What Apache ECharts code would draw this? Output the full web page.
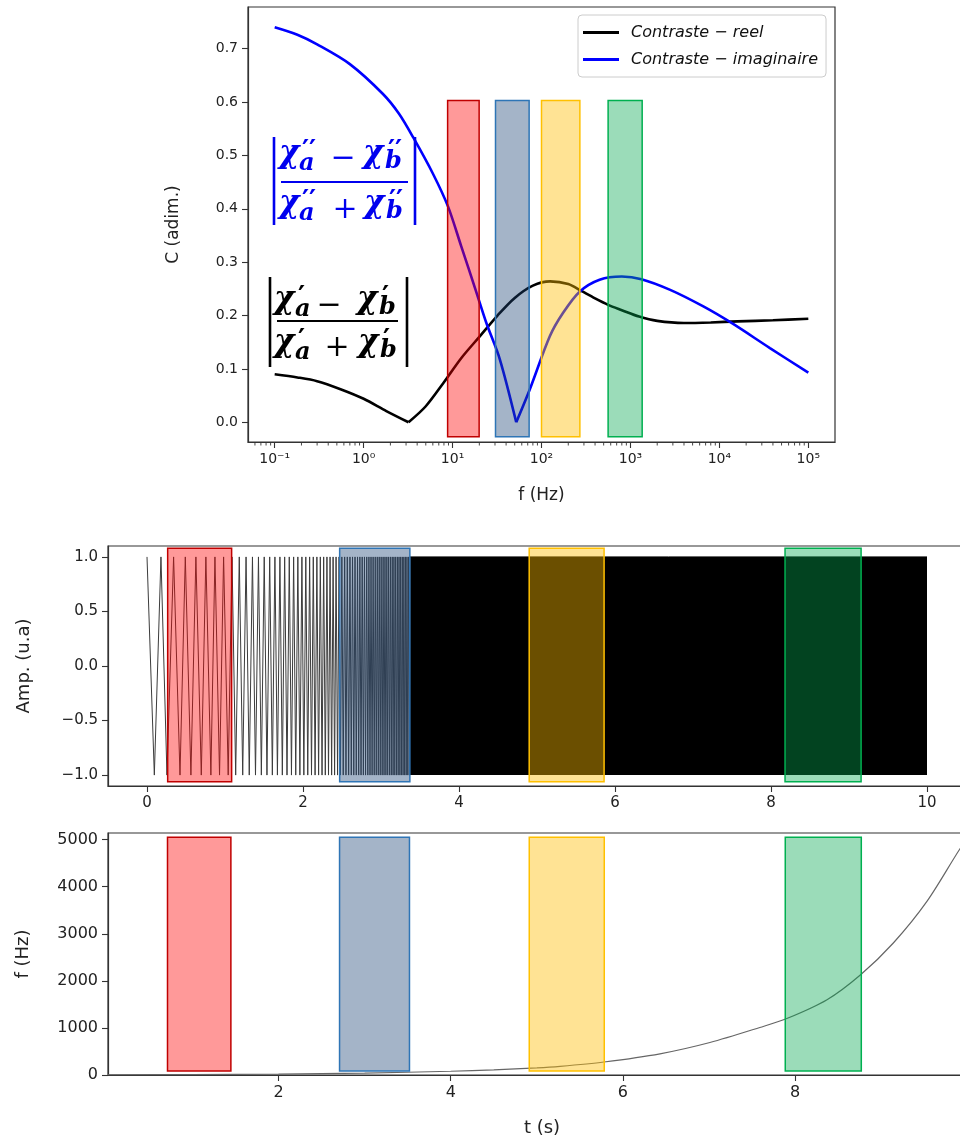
<!DOCTYPE html>
<html><head><meta charset="utf-8">
<script src="https://cdn.jsdelivr.net/npm/echarts@6/dist/echarts.min.js"></script>
<style>html,body{margin:0;padding:0;background:#fff}#chart{width:960px;height:1144px}</style>
</head><body><div id="chart"></div>
<script>
// ---------- DATA ----------
// Top panel: contrast vs frequency (log axis)
const freqReal = [0.1, 0.18, 0.3, 0.55, 1.0, 1.8, 3.2, 5.0, 8.0, 12.5, 20, 32, 50, 80, 125, 200, 280, 400, 560, 800, 1250, 2000, 4000, 8000, 16000, 40000, 100000];
const contrastReal = [0.090, 0.084, 0.077, 0.062, 0.044, 0.021, 0.000, 0.030, 0.075, 0.120, 0.160, 0.200, 0.233, 0.256, 0.264, 0.259, 0.246, 0.232, 0.220, 0.210, 0.198, 0.190, 0.186, 0.187, 0.189, 0.191, 0.194];
const freqImag = [0.1, 0.18, 0.3, 0.7, 1.65, 2.5, 3.6, 6.0, 8.9, 12.5, 18, 24, 34, 52, 74, 124, 175, 270, 450, 800, 1330, 2800, 6600, 13700, 37000, 100000];
const contrastImag = [0.740, 0.726, 0.708, 0.671, 0.615, 0.578, 0.534, 0.466, 0.404, 0.330, 0.250, 0.186, 0.118, 0.000, 0.062, 0.161, 0.205, 0.245, 0.267, 0.273, 0.268, 0.248, 0.217, 0.186, 0.139, 0.093];
const seriesNames = ['Contraste − reel', 'Contraste − imaginaire'];
const topXTicks = [0.1, 1, 10, 100, 1000, 10000, 100000];
const topXTickLabels = ['10⁻¹', '10⁰', '10¹', '10²', '10³', '10⁴', '10⁵'];
const topYTicks = [0, 0.1, 0.2, 0.3, 0.4, 0.5, 0.6, 0.7];
const topBoxesX = [[8.8, 19.9], [30.4, 72.6], [100, 270], [561, 1355]];
const topBoxY = [-0.027, 0.603];

// Middle panel: chirp signal, times of successive extrema (+1, -1, +1, ...)
const chirpExtremaT = [0.000, 0.094, 0.179, 0.256, 0.341, 0.423, 0.491, 0.563, 0.627, 0.696, 0.755, 0.819, 0.871, 0.930, 0.982, 1.041,
  1.090, 1.137, 1.183, 1.227, 1.270, 1.311, 1.352, 1.391, 1.429, 1.466, 1.503, 1.538, 1.573, 1.607, 1.640, 1.672, 1.704, 1.735, 1.765, 1.795,
  1.824, 1.852, 1.880, 1.907, 1.934, 1.960, 1.986, 2.011, 2.036, 2.061, 2.085, 2.109, 2.132, 2.155, 2.178, 2.200, 2.222, 2.244, 2.265, 2.286,
  2.307, 2.327, 2.347, 2.367, 2.386, 2.405, 2.424, 2.443, 2.462, 2.480, 2.498, 2.516, 2.534, 2.551, 2.568, 2.585, 2.602, 2.619, 2.635, 2.651,
  2.667, 2.683, 2.699, 2.714, 2.729, 2.744, 2.759, 2.774, 2.788, 2.802, 2.817, 2.831, 2.845, 2.859, 2.872, 2.886, 2.899, 2.913, 2.926, 2.939,
  2.952, 2.965, 2.977, 2.990, 3.002, 3.015, 3.027, 3.039, 3.051, 3.063, 3.075, 3.086, 3.098, 3.110, 3.121, 3.132, 3.144, 3.155, 3.166, 3.177,
  3.188, 3.199, 3.210, 3.220, 3.231, 3.242, 3.252, 3.262, 3.273, 3.283, 3.293, 3.303, 3.313, 3.323, 3.333, 3.343, 3.353, 3.363, 3.373];
const chirpDenseT = [3.37, 10.0];   // solid (unresolved) part of the chirp
const chirpAmp = 1.0;
const midXTicks = [0, 2, 4, 6, 8, 10];
const midYTicks = [-1, -0.5, 0, 0.5, 1];
const midBoxesX = [[0.265, 1.085], [2.47, 3.37], [4.90, 5.86], [8.18, 9.155]];
const midBoxY = [-1.06, 1.08];

// Bottom panel: instantaneous frequency vs time
const sweepT = [0.02, 1.0, 2.0, 3.0, 4.0, 4.5, 5.0, 5.27, 5.78, 6.43, 7.01, 7.59, 7.91, 8.37, 8.76, 9.14, 9.53, 9.92, 10.0];
const sweepF = [5, 10, 20, 40, 80, 110, 150, 183, 276, 450, 690, 1010, 1205, 1600, 2131, 2805, 3689, 4824, 5000];
const botXTicks = [2, 4, 6, 8];
const botYTicks = [0, 1000, 2000, 3000, 4000, 5000];
const botBoxesX = [[0.711, 1.447], [2.709, 3.521], [4.912, 5.783], [7.885, 8.768]];
const botBoxY = [85, 5050];

// box colours (red, blue, yellow, green)
const boxFill = ['rgba(255,0,0,0.4)', 'rgba(28,68,118,0.4)', 'rgba(255,188,0,0.42)', 'rgba(5,168,80,0.4)'];
const boxEdge = ['#C00000', '#2E75B6', '#FFC000', '#00B050'];

// ---------- CHART ----------
const FONT = 'DejaVu Sans';
const AX = '#333';
const TOP_X_RANGE = [Math.pow(10, -1.3), Math.pow(10, 5.3)];
const TOP_Y_RANGE = [-0.037, 0.778];
const fmt1 = v => (v < 0 ? '−' + Math.abs(v).toFixed(1) : v.toFixed(1));

function boxSeries(xi, yi, boxes, yr) {
  return {
    type: 'custom', xAxisIndex: xi, yAxisIndex: yi, z: 10, silent: true,
    data: boxes.map((b, i) => [b[0], b[1], yr[0], yr[1], i]),
    encode: { x: [0, 1], y: [2, 3] },
    renderItem: (params, api) => {
      const p0 = api.coord([api.value(0), api.value(3)]);
      const p1 = api.coord([api.value(1), api.value(2)]);
      const k = api.value(4);
      return { type: 'rect', shape: { x: p0[0], y: p0[1], width: p1[0] - p0[0], height: p1[1] - p0[1] },
        style: { fill: boxFill[k], stroke: boxEdge[k], lineWidth: 1.5 } };
    }
  };
}

// split a curve at its V-shaped minimum so that smoothing keeps the tip sharp
function splitAtMin(xs, ys) {
  let k = 0;
  ys.forEach((v, i) => { if (v < ys[k]) k = i; });
  const pts = xs.map((x, i) => [x, ys[i]]);
  return [pts.slice(0, k + 1), pts.slice(k)];
}

function formula(c) {
  const els = [];
  const SERIF = '"DejaVu Serif", "Liberation Serif", serif';
  const chiFont = 'italic bold 31px ' + SERIF;
  const subFont = 'italic bold 24px ' + SERIF;
  const primeFont = 'bold 27px ' + SERIF;
  const opFont = '30px ' + SERIF;
  const t = (text, x, y, font, align) => els.push({ type: 'text', z: 30, silent: true,
    style: { text, x, y, font, fill: c.color, align: align || 'left', textAlign: align || 'left', verticalAlign: 'middle', textVerticalAlign: 'middle' } });
  const L = c.L, T = c.T;
  [[c.numCy, c.numOpX, '−', c.num2X, c.numSub2X], [c.denCy, c.denOpX, '+', c.den2X, c.denSub2X]].forEach(r => {
    const cy = r[0];
    t('χ', L + c.chi1X, cy - 5, chiFont);
    t(c.prime, L + c.sub1X + 4, cy - 6, primeFont);
    t('a', L + c.sub1X + 1, cy + 5, subFont);
    t(r[2], L + r[1], cy + 1, opFont, 'center');
    t('χ', L + r[3], cy - 5, chiFont);
    t(c.prime, L + r[4] + 4, cy - 6, primeFont);
    t('b', L + r[4] + 1, cy + 3, subFont);
  });
  els.push({ type: 'line', z: 30, silent: true, shape: { x1: L + c.lineX0, y1: T + c.lineY, x2: L + c.lineX1, y2: T + c.lineY }, style: { stroke: c.color, lineWidth: 2 } });
  els.push({ type: 'line', z: 30, silent: true, shape: { x1: L, y1: T, x2: L, y2: T + c.H }, style: { stroke: c.color, lineWidth: 2.6 } });
  els.push({ type: 'line', z: 30, silent: true, shape: { x1: L + c.barR, y1: T, x2: L + c.barR, y2: T + c.H }, style: { stroke: c.color, lineWidth: 2.6 } });
  return els;
}

const graphics = [].concat(
  formula({ L: 274, T: 137, H: 88, color: '#0000ee', prime: '′′', numCy: 137 + 21.5, denCy: 137 + 72, lineY: 45,
    chi1X: 5, sub1X: 24, numOpX: 69, num2X: 89, numSub2X: 110, denOpX: 71, den2X: 90, denSub2X: 111, lineX0: 7, lineX1: 134, barR: 141 }),
  formula({ L: 270, T: 277, H: 90, color: '#000000', prime: '′', numCy: 277 + 28, denCy: 277 + 70.5, lineY: 44,
    chi1X: 4, sub1X: 24, numOpX: 59, num2X: 87, numSub2X: 108, denOpX: 67, den2X: 88, denSub2X: 109, lineX0: 7, lineX1: 128, barR: 137 })
);

const minorTop = [];
for (let e = -2; e <= 5; e++) for (let m = 2; m <= 9; m++) {
  const v = m * Math.pow(10, e);
  if (v > TOP_X_RANGE[0] && v < TOP_X_RANGE[1]) minorTop.push(v);
}

const labelStyle = fs => ({ fontFamily: FONT, fontSize: fs, color: '#222' });
const axLine = { show: true, onZero: false, lineStyle: { color: AX, width: 1.2 } };
const gridBase = { show: true, borderColor: AX, borderWidth: 1.2, backgroundColor: 'transparent', containLabel: false, outerBoundsMode: 'none' };

const realParts = splitAtMin(freqReal, contrastReal);
const imagParts = splitAtMin(freqImag, contrastImag);
const curve = (name, color, data, z) => ({ name, type: 'line', xAxisIndex: 0, yAxisIndex: 0, showSymbol: false, z, color,
  smooth: 0.3, lineStyle: { color, width: 2.6 }, data });

const option = {
  animation: false,
  backgroundColor: '#fff',
  grid: [
    { ...gridBase, left: 248, top: 7, width: 587, height: 435 },
    { ...gridBase, left: 108, top: 546, width: 858, height: 240 },
    { ...gridBase, left: 108, top: 833, width: 868, height: 242 }
  ],
  legend: {
    left: 578, top: 15, orient: 'vertical', data: seriesNames,
    icon: 'rect', itemWidth: 36, itemHeight: 3, itemGap: 8,
    padding: [8, 8, 8, 5],
    backgroundColor: 'rgba(255,255,255,0.85)', borderColor: '#cccccc', borderWidth: 1, borderRadius: 4,
    textStyle: { fontFamily: FONT, fontStyle: 'italic', fontSize: 16, color: '#111', padding: [0, 0, 0, 7], lineHeight: 19 }
  },
  xAxis: [
    { type: 'log', gridIndex: 0, position: 'bottom', min: TOP_X_RANGE[0], max: TOP_X_RANGE[1],
      name: 'f (Hz)', nameLocation: 'middle', nameGap: 45, nameTextStyle: labelStyle(17),
      axisLine: axLine, splitLine: { show: false },
      axisTick: { show: true, length: 6, lineStyle: { color: AX, width: 1.1 }, customValues: topXTicks },
      axisLabel: { ...labelStyle(14), margin: 10, customValues: topXTicks,
        formatter: v => { const i = topXTicks.findIndex(x => Math.abs(Math.log10(x) - Math.log10(v)) < 1e-6); return i >= 0 ? topXTickLabels[i] : ''; } } },
    { type: 'value', gridIndex: 1, position: 'bottom', min: -0.5, max: 10.5,
      axisLine: axLine, splitLine: { show: false },
      axisTick: { show: true, length: 6, lineStyle: { color: AX, width: 1.1 }, customValues: midXTicks },
      axisLabel: { ...labelStyle(15), margin: 10, customValues: midXTicks, formatter: v => String(v) } },
    { type: 'value', gridIndex: 2, position: 'bottom', min: 0.02, max: 10.1,
      name: 't (s)', nameLocation: 'middle', nameGap: 44, nameTextStyle: labelStyle(18),
      axisLine: axLine, splitLine: { show: false },
      axisTick: { show: true, length: 6, lineStyle: { color: AX, width: 1.1 }, customValues: botXTicks },
      axisLabel: { ...labelStyle(16), margin: 10, customValues: botXTicks, formatter: v => String(v) } }
  ],
  yAxis: [
    { type: 'value', gridIndex: 0, min: TOP_Y_RANGE[0], max: TOP_Y_RANGE[1],
      name: 'C (adim.)', nameLocation: 'middle', nameGap: 66, nameTextStyle: labelStyle(17),
      axisLine: axLine, splitLine: { show: false },
      axisTick: { show: true, length: 6, lineStyle: { color: AX, width: 1.1 }, customValues: topYTicks },
      axisLabel: { ...labelStyle(14), margin: 10, customValues: topYTicks, formatter: fmt1 } },
    { type: 'value', gridIndex: 1, min: -1.1, max: 1.1,
      name: 'Amp. (u.a)', nameLocation: 'middle', nameGap: 75, nameTextStyle: labelStyle(18),
      axisLine: axLine, splitLine: { show: false },
      axisTick: { show: true, length: 6, lineStyle: { color: AX, width: 1.1 }, customValues: midYTicks },
      axisLabel: { ...labelStyle(15), margin: 10, customValues: midYTicks, formatter: fmt1 } },
    { type: 'value', gridIndex: 2, min: 0, max: 5142,
      name: 'f (Hz)', nameLocation: 'middle', nameGap: 76, nameTextStyle: labelStyle(18),
      axisLine: axLine, splitLine: { show: false },
      axisTick: { show: true, length: 6, lineStyle: { color: AX, width: 1.1 }, customValues: botYTicks },
      axisLabel: { ...labelStyle(16), margin: 10, customValues: botYTicks, formatter: v => String(v) } }
  ],
  graphic: graphics,
  series: [
    curve(seriesNames[0], '#000000', realParts[0], 3),
    curve(seriesNames[0], '#000000', realParts[1], 3),
    curve(seriesNames[1], '#0000ff', imagParts[0], 4),
    curve(seriesNames[1], '#0000ff', imagParts[1], 4),
    boxSeries(0, 0, topBoxesX, topBoxY),
    { // minor ticks of the log axis (2..9 x 10^n)
      type: 'custom', xAxisIndex: 0, yAxisIndex: 0, silent: true, clip: false, z: 2,
      data: minorTop.map(v => [v, TOP_Y_RANGE[0]]), encode: { x: 0, y: 1 },
      renderItem: (p, api) => {
        const pt = api.coord([api.value(0), api.value(1)]);
        return { type: 'line', shape: { x1: pt[0], y1: pt[1], x2: pt[0], y2: pt[1] + 3.5 }, style: { stroke: AX, lineWidth: 0.9 } };
      } },
    { type: 'line', xAxisIndex: 1, yAxisIndex: 1, showSymbol: false, z: 3, sampling: null,
      lineStyle: { color: '#3c3c3c', width: 1 }, data: chirpExtremaT.map((t, i) => [t, i % 2 === 0 ? chirpAmp : -chirpAmp]) },
    { type: 'line', xAxisIndex: 1, yAxisIndex: 1, showSymbol: false, z: 3,
      lineStyle: { color: '#000', width: 1 }, areaStyle: { color: '#000', opacity: 1, origin: -chirpAmp },
      data: chirpDenseT.map(t => [t, chirpAmp]) },
    boxSeries(1, 1, midBoxesX, midBoxY),
    { type: 'line', xAxisIndex: 2, yAxisIndex: 2, showSymbol: false, z: 3, smooth: 0.3,
      lineStyle: { color: '#666', width: 1.2 }, data: sweepT.map((t, i) => [t, sweepF[i]]) },
    boxSeries(2, 2, botBoxesX, botBoxY)
  ]
};
const chart = echarts.init(document.getElementById('chart'));
chart.setOption(option);
</script></body></html>
